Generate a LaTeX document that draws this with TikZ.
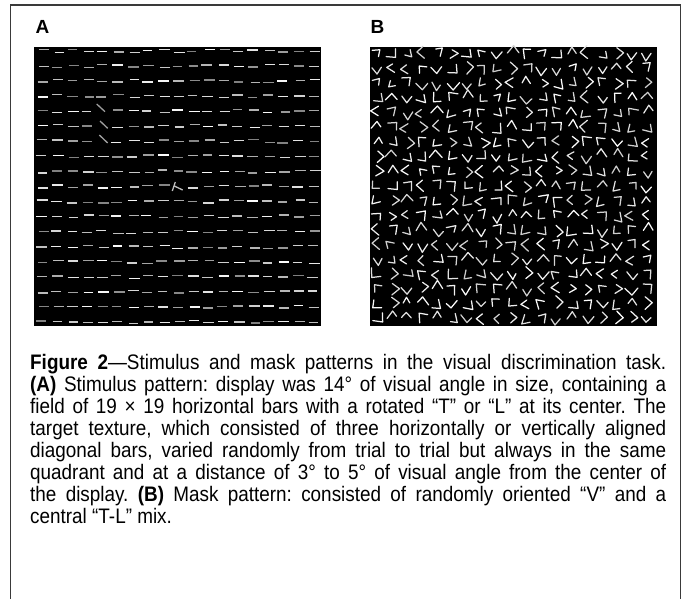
\documentclass[tikz,border=0pt]{standalone}
\usepackage{fontspec}
\setmainfont{Liberation Sans}[FakeStretch=0.9]
\newfontfamily\labfont{Liberation Sans}
\definecolor{framecol}{HTML}{3A3A3A}
\tikzset{
  panel/.style={fill=black, draw=none, inner sep=0pt, minimum width=287pt, minimum height=279pt},
  lab/.style={font=\labfont\fontsize{19}{19}\selectfont\bfseries, inner sep=0pt},
  bar/.style={line width=1.3pt},
  vline/.style={line width=1.25pt, line cap=round, line join=round},
}
\begin{document}
\begin{tikzpicture}[x=1pt,y=-1pt]
\useasboundingbox (0,0) rectangle (683,599);
% outer frame, open at the bottom edge of the page
\draw[framecol, line width=1.3pt] (10.5,620) -- (10.5,5) -- (680.5,5) -- (680.5,620);

% panel labels
\node[lab, anchor=base west] (labA) at (35.5,33.5) {A};
\node[lab, anchor=base west] (labB) at (370.5,33.5) {B};

% panel backgrounds
\node[panel, anchor=north west] (panA) at (34,46.5) {};
\node[panel, anchor=north west] (panB) at (370,47) {};

% A: 19 x 19 field of horizontal bars with jittered positions and grey levels
\pgfmathsetseed{4211}
\foreach \r in {0,...,18}{
  \foreach \c in {0,...,18}{
    \pgfmathsetmacro\cx{42.5+15.08*\c+1.8*rand}
    \pgfmathsetmacro\cy{51+15.05*\r+1.6*rand}
    \pgfmathsetmacro\hl{4.6+0.9*rnd}
    \pgfmathtruncatemacro\gr{50+50*rnd}
    \pgfmathtruncatemacro\skipit{or(and(\c==4,and(\r>3,\r<7)),and(\c==9,\r==9))}
    \ifnum\skipit=0
      \draw[bar, white!\gr!black] (\cx-\hl,\cy) -- (\cx+\hl,\cy);
    \fi
  }
}
% A: target texture of three diagonal bars
\draw[bar, white!62!black] (96.7,104) -- (105,111.7);
\draw[bar, white!62!black] (100,121) -- (107.7,128.3);
\draw[bar, white!62!black] (99.3,135) -- (107.7,143);
% A: rotated T/L at the centre
\draw[bar, white!75!black] (172.3,191) -- (175.3,182);
\draw[bar, white!75!black] (174.3,186) -- (182.7,190);

% B: mask of randomly oriented V shapes
\pgfmathsetseed{977}
\foreach \r in {0,...,18}{
  \foreach \c in {0,...,18}{
    \pgfmathsetmacro\cx{377+15.0*\c+1.5*rand}
    \pgfmathsetmacro\cy{53.5+14.7*\r+1.5*rand}
    \pgfmathsetmacro\th{45*int(8*rnd)+4*rand}
    \pgfmathsetmacro\op{30+14*rnd}
    \pgfmathsetmacro\la{6.5+3.5*rnd}
    \pgfmathsetmacro\lb{6.5+3.5*rnd}
    \pgfmathtruncatemacro\gr{80+20*rnd}
    \pgfmathsetmacro\vx{\cx-0.45*(\la*cos(\th+\op)+\lb*cos(\th-\op))}
    \pgfmathsetmacro\vy{\cy-0.45*(\la*sin(\th+\op)+\lb*sin(\th-\op))}
    \pgfmathsetmacro\ax{\vx+\la*cos(\th+\op)}
    \pgfmathsetmacro\ay{\vy+\la*sin(\th+\op)}
    \pgfmathsetmacro\bx{\vx+\lb*cos(\th-\op)}
    \pgfmathsetmacro\by{\vy+\lb*sin(\th-\op)}
    \draw[vline, white!\gr!black] (\ax,\ay) -- (\vx,\vy) -- (\bx,\by);
  }
}

% caption
\node[anchor=base west, inner sep=0pt] (cap) at (30,369) {\parbox[t]{636pt}{%
\fontsize{21}{22.1}\selectfont\frenchspacing\hbadness=10000\hyphenpenalty=10000\emergencystretch=20pt
\textbf{Figure 2}—Stimulus and mask patterns in the visual discrimination task.\linebreak
\textbf{(A)} Stimulus pattern: display was 14° of visual angle in size, containing a\linebreak
field of 19 × 19 horizontal bars with a rotated “T” or “L” at its center. The\linebreak
target texture, which consisted of three horizontally or vertically aligned\linebreak
diagonal bars, varied randomly from trial to trial but always in the same\linebreak
quadrant and at a distance of 3° to 5° of visual angle from the center of\linebreak
the display. \textbf{(B)} Mask pattern: consisted of randomly oriented “V” and a\linebreak
central “T-L” mix.}};
\end{tikzpicture}
\end{document}
